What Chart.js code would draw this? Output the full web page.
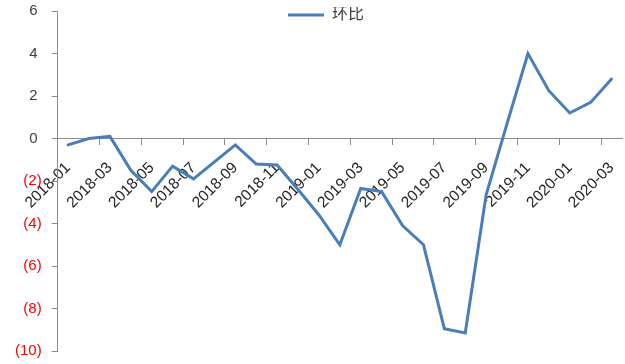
<!DOCTYPE html>
<html>
<head>
<meta charset="utf-8">
<script src="https://cdn.jsdelivr.net/npm/chart.js@4/dist/chart.umd.min.js"></script>
<style>
  html, body { margin: 0; padding: 0; background: #ffffff; }
  #wrap { width: 625px; height: 364px; position: relative; }
</style>
</head>
<body>
<div id="wrap"><canvas id="chart"></canvas></div>
<script>
// Monthly categories, 2018-01 .. 2020-03
const months = [
  '2018-01', '2018-02', '2018-03', '2018-04', '2018-05', '2018-06',
  '2018-07', '2018-08', '2018-09', '2018-10', '2018-11', '2018-12',
  '2019-01', '2019-02', '2019-03', '2019-04', '2019-05', '2019-06',
  '2019-07', '2019-08', '2019-09', '2019-10', '2019-11', '2019-12',
  '2020-01', '2020-02', '2020-03'
];

// Month-on-month change (%)
const momChange = [
  -0.3, 0.0, 0.1, -1.5, -2.5, -1.3,
  -1.9, -1.1, -0.3, -1.2, -1.25, -2.4,
  -3.6, -5.0, -2.35, -2.5, -4.1, -5.0,
  -8.95, -9.15, -2.65, 0.7, 4.0, 2.25,
  1.2, 1.7, 2.8
];

const seriesName = '环比';

// Value axis range and step
const yMin = -10;
const yMax = 6;
const yStep = 2;

const AXIS_GREY = '#8c8c8c';
const LINE_BLUE = '#4A7EBB';

Chart.defaults.font.family = '"Liberation Sans", Arial, "Noto Sans CJK SC", sans-serif';

// Places the legend inside the plot area, near the top, like a floating key.
const floatingLegend = {
  id: 'floatingLegend',
  afterLayout(chart, args, opts) {
    const lg = chart.legend;
    if (!lg || !lg.legendHitBoxes || !lg.legendHitBoxes.length) return;
    const w = lg.legendHitBoxes[0].width;
    const h = lg.height;
    lg.left = opts.centerX - w / 2;
    lg.right = lg.left + w;
    lg.top = opts.top;
    lg.bottom = lg.top + h;
  }
};

new Chart(document.getElementById('chart'), {
  type: 'line',
  data: {
    labels: months,
    datasets: [{
      label: seriesName,
      data: momChange,
      borderColor: LINE_BLUE,
      backgroundColor: LINE_BLUE,
      borderWidth: 3,
      borderCapStyle: 'round',
      pointRadius: 0,
      pointHoverRadius: 0,
      tension: 0,
      fill: false
    }]
  },
  plugins: [floatingLegend],
  options: {
    responsive: true,
    maintainAspectRatio: false,
    animation: false,
    layout: { padding: { top: 11, bottom: 13, left: 5, right: 3 } },
    plugins: {
      floatingLegend: { centerX: 326, top: 7 },
      tooltip: { enabled: false },
      legend: {
        position: 'chartArea',
        align: 'start',
        labels: {
          usePointStyle: true,
          pointStyle: 'line',
          pointStyleWidth: 36,
          boxHeight: 16,
          padding: 0,
          color: '#404040',
          font: { size: 16 }
        }
      }
    },
    scales: {
      x: {
        type: 'category',
        offset: true,
        position: { y: 0 },
        border: { color: AXIS_GREY, width: 1 },
        grid: {
          offset: true,
          drawOnChartArea: false,
          drawTicks: true,
          tickLength: 6,
          color: (ctx) => (ctx.index % 2 === 0 ? AXIS_GREY : 'rgba(0,0,0,0)'),
          tickColor: (ctx) => (ctx.index % 2 === 0 ? AXIS_GREY : 'rgba(0,0,0,0)')
        },
        ticks: {
          autoSkip: false,
          minRotation: 45,
          maxRotation: 45,
          padding: 17,
          color: '#262626',
          font: { size: 15.5, lineHeight: 0.7 },
          callback(value, index) {
            return index % 2 === 0 ? this.getLabelForValue(value) : '';
          }
        },
        // rotated labels may hang past the plot edges; they need no reserved room
        afterFit(scale) {
          scale.paddingLeft = 0;
          scale.paddingRight = 0;
        }
      },
      y: {
        min: yMin,
        max: yMax,
        border: { color: AXIS_GREY, width: 1 },
        grid: {
          drawOnChartArea: false,
          drawTicks: true,
          tickLength: 6,
          color: AXIS_GREY
        },
        ticks: {
          stepSize: yStep,
          padding: 10,
          font: { size: 15 },
          color: (ctx) => (ctx.tick && ctx.tick.value < 0 ? '#FF0000' : '#404040'),
          callback: (v) => (v < 0 ? '(' + (-v) + ')' : v + ' ')
        },
        // top/bottom room comes from the layout padding instead
        afterFit(scale) {
          scale.paddingTop = 0;
          scale.paddingBottom = 0;
        }
      }
    }
  }
});
</script>
</body>
</html>
